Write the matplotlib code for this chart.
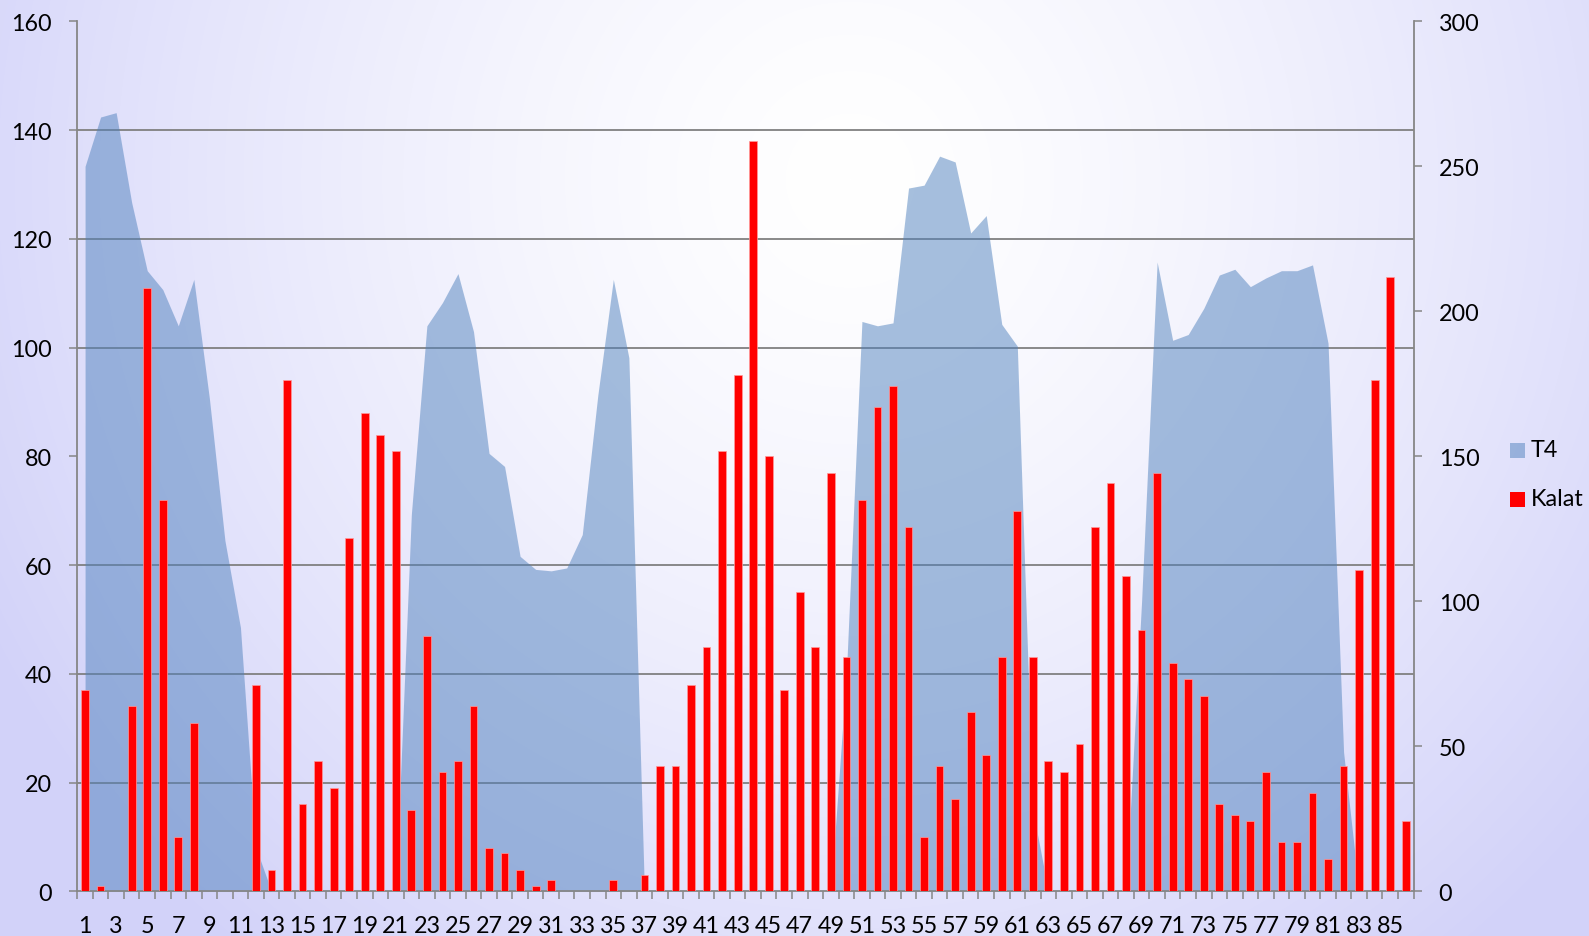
import numpy as np
import matplotlib
matplotlib.use("Agg")
import matplotlib.pyplot as plt
from matplotlib.patches import Rectangle
from matplotlib.ticker import MultipleLocator, FixedLocator

plt.rcParams['font.family'] = ['Lato', 'DejaVu Sans']

# ---------------- data ----------------
categories = list(range(1, 87))

kalat = [37, 1, 0, 34, 111, 72, 10, 31, 0, 0,
         0, 38, 4, 94, 16, 24, 19, 65, 88, 84,
         81, 15, 47, 22, 24, 34, 8, 7, 4, 1,
         2, 0, 0, 0, 2, 0, 3, 23, 23, 38,
         45, 81, 95, 138, 80, 37, 55, 45, 77, 43,
         72, 89, 93, 67, 10, 23, 17, 33, 25, 43,
         70, 43, 24, 22, 27, 67, 75, 58, 48, 77,
         42, 39, 36, 16, 14, 13, 22, 9, 9, 18,
         6, 23, 59, 94, 113, 13]

t4 = [250, 267, 268.5, 237.5, 214, 207.5, 195, 211, 170, 121,
      91, 15, 0, 0, 0, 0, 0, 0, 0, 0,
      0, 130, 195, 203, 213, 193, 151, 146.5, 115.5, 111,
      110.5, 111.5, 123, 171, 211, 184, 0, 0, 0, 0,
      0, 0, 0, 0, 0, 0, 0, 0, 0, 75,
      196.5, 195, 196, 242.5, 243.5, 253.5, 251.5, 227, 233, 195.5,
      188, 28, 0, 0, 0, 0, 0, 0, 100, 217,
      190, 192, 201, 212.5, 214.5, 208.5, 211.5, 214, 214, 216,
      189, 48, 0, 0, 0, 0]

series_names = ["T4", "Kalat"]
left_ticks = list(range(0, 161, 20))
right_ticks = list(range(0, 301, 50))
x_labels = [str(c) for c in categories if c % 2 == 1]

# ---------------- style ----------------
W, H = 1589, 937
AREA_COLOR = '#4F81BD'
BAR_COLOR = '#FF0000'
AXIS_GRAY = '#868686'
GRID_GRAY = '#808080'
FS = 16.8

fig = plt.figure(figsize=(W / 100, H / 100), dpi=100)

# background radial gradient
bg = fig.add_axes([0, 0, 1, 1], zorder=-10)
yy, xx = np.mgrid[0:H, 0:W]
cx, cy, rx, ry = 850, 180, 980, 1000
t = np.sqrt(((xx - cx) / rx) ** 2 + ((yy - cy) / ry) ** 2)
t = np.clip(t, 0, 1) ** 1.4
lav = np.array([210, 210, 249]) / 255.0
img = np.ones((H, W, 3)) * (1 - t[..., None]) + lav[None, None, :] * t[..., None]
bg.imshow(img, aspect='auto', extent=[0, 1, 0, 1], origin='upper')
bg.set_axis_off()

left, right = 77.3 / W, 1413.5 / W
bottom, top = 1 - 892.3 / H, 1 - 22.3 / H
ax = fig.add_axes([left, bottom, right - left, top - bottom])
ax2 = ax.twinx()

x = np.array(categories)

# area (right axis), drawn below
ax2.fill_between(x, t4, 0, color=AREA_COLOR, alpha=0.5, linewidth=0, zorder=2)
ax2.set_ylim(0, 300)
ax2.set_yticks(right_ticks)
ax2.yaxis.set_minor_locator(MultipleLocator(300 / 160 * 20))
ax2.grid(which='minor', axis='y', color=GRID_GRAY, linewidth=1.3, zorder=0)
ax2.set_axisbelow(True)
ax2.tick_params(axis='y', which='minor', length=0)
ax2.tick_params(axis='y', which='major', direction='out', length=5.8, width=1.1,
                color=AXIS_GRAY, labelsize=FS, pad=12.3)

# bars (left axis) on top
ax.set_zorder(ax2.get_zorder() + 1)
ax.patch.set_visible(False)
ax2.patch.set_visible(False)
ax.bar(x, kalat, width=0.5, color=BAR_COLOR, edgecolor='#ff9a9a', linewidth=0.5, zorder=3)
ax.set_ylim(0, 160)
ax.set_xlim(0.5, 86.5)
ax.set_yticks(left_ticks)
ax.tick_params(axis='y', direction='out', length=5.8, width=1.1, color=AXIS_GRAY,
               labelsize=FS, pad=12.3)

ax.xaxis.set_major_locator(FixedLocator([c for c in categories if c % 2 == 1]))
ax.set_xticklabels(x_labels)
ax.xaxis.set_minor_locator(FixedLocator(np.arange(0.5, 87, 1.0)))
ax.tick_params(axis='x', which='major', length=0, labelsize=FS, pad=17)
ax.tick_params(axis='x', which='minor', direction='out', length=5.8, width=1.1,
               color=AXIS_GRAY)

for a in (ax, ax2):
    a.spines['top'].set_visible(False)
for s in ('left', 'bottom'):
    ax.spines[s].set_color(AXIS_GRAY)
    ax.spines[s].set_linewidth(1.3)
ax.spines['right'].set_visible(False)
ax2.spines['left'].set_visible(False)
ax2.spines['bottom'].set_visible(False)
ax2.spines['right'].set_color(AXIS_GRAY)
ax2.spines['right'].set_linewidth(1.3)

# legend (manual)
leg_colors = [(AREA_COLOR, 0.5), (BAR_COLOR, 1.0)]
leg_y = [451, 500]
for name, (col, al), yc in zip(series_names, leg_colors, leg_y):
    fig.patches.append(Rectangle((1510 / W, 1 - (yc + 7.5) / H), 15 / W, 15 / H,
                                 transform=fig.transFigure, facecolor=col, alpha=al,
                                 edgecolor='none', figure=fig))
    fig.text(1531 / W, 1 - yc / H, name, fontsize=FS, va='center', ha='left')

fig.savefig('out.png', dpi=100)
